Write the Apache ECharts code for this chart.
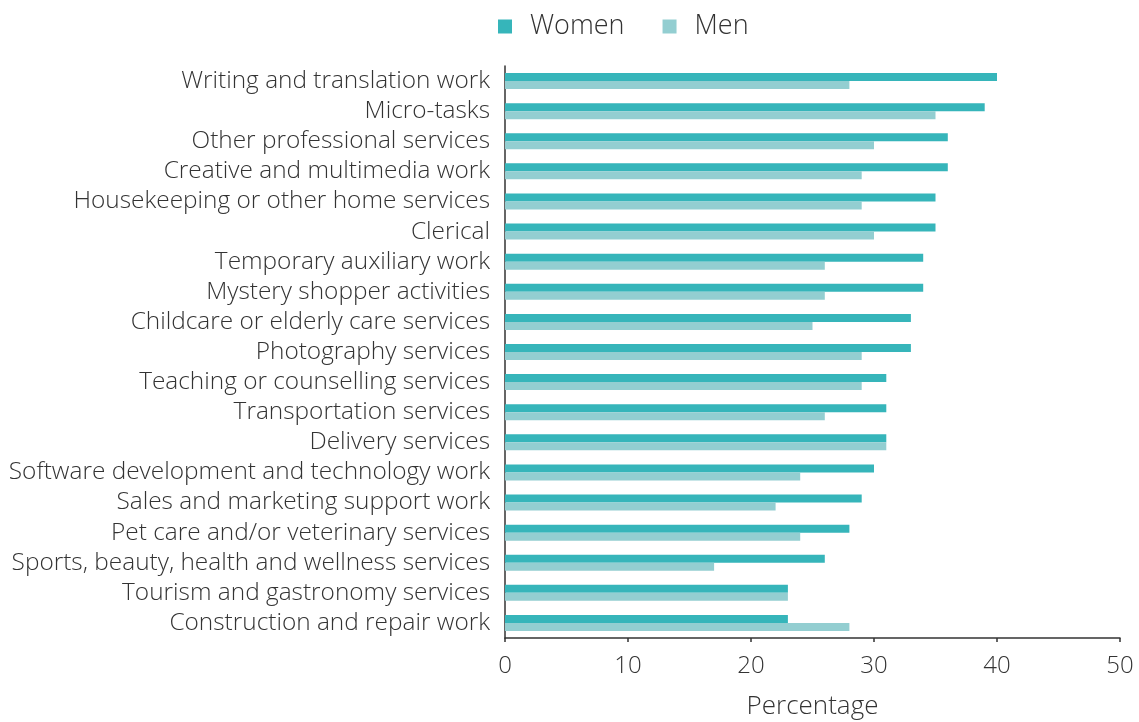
<!DOCTYPE html>
<html>
<head>
<meta charset="utf-8">
<script src="https://cdn.jsdelivr.net/npm/echarts@6/dist/echarts.min.js"></script>
<style>
html,body{margin:0;padding:0;background:#fff;}
#c{width:1139px;height:722px;}
</style>
</head>
<body>
<div id="c"></div>
<script>
const categories = [
  "Writing and translation work",
  "Micro-tasks",
  "Other professional services",
  "Creative and multimedia work",
  "Housekeeping or other home services",
  "Clerical",
  "Temporary auxiliary work",
  "Mystery shopper activities",
  "Childcare or elderly care services",
  "Photography services",
  "Teaching or counselling services",
  "Transportation services",
  "Delivery services",
  "Software development and technology work",
  "Sales and marketing support work",
  "Pet care and/or veterinary services",
  "Sports, beauty, health and wellness services",
  "Tourism and gastronomy services",
  "Construction and repair work"
];
const women = [40, 39, 36, 36, 35, 35, 34, 34, 33, 33, 31, 31, 31, 30, 29, 28, 26, 23, 23];
const men   = [28, 35, 30, 29, 29, 30, 26, 26, 25, 29, 29, 26, 31, 24, 22, 24, 17, 23, 28];
const xTicks = [0, 10, 20, 30, 40, 50];

const font = "'Open Sans', sans-serif";
const chart = echarts.init(document.getElementById('c'), null, {renderer: 'canvas'});
chart.setOption({
  animation: false,
  backgroundColor: '#fff',
  textStyle: {fontFamily: font},
  legend: {
    top: 8,
    left: 493,
    itemWidth: 14,
    itemHeight: 14,
    itemGap: 38,
    icon: 'rect',
    textStyle: {fontFamily: font, fontSize: 27, fontWeight: 300, color: '#333', padding: [0, 0, 0, 13]},
    data: ['Women', 'Men']
  },
  grid: {left: 505, right: 19, top: 66, bottom: 84, containLabel: false, outerBoundsMode: 'none'},
  xAxis: {
    type: 'value',
    min: xTicks[0],
    max: xTicks[xTicks.length - 1],
    interval: 10,
    name: 'Percentage',
    nameLocation: 'middle',
    nameGap: 56,
    nameTextStyle: {fontFamily: font, fontSize: 26, fontWeight: 300, color: '#333'},
    axisLine: {show: true, lineStyle: {color: '#333', width: 1.5}},
    axisTick: {show: true, length: 4, lineStyle: {color: '#333', width: 1.5}},
    axisLabel: {fontFamily: font, fontSize: 24, fontWeight: 300, color: '#333', margin: 16},
    splitLine: {show: false}
  },
  yAxis: {
    type: 'category',
    data: categories,
    inverse: true,
    axisLine: {show: true, lineStyle: {color: '#333', width: 1.5}},
    axisTick: {show: false},
    axisLabel: {interval: 0, fontFamily: font, fontSize: 24.4, fontWeight: 300, color: '#333', margin: 15}
  },
  series: [
    {name: 'Women', type: 'bar', data: women, barWidth: 8, barGap: '0%',
     itemStyle: {color: '#36b5ba'}},
    {name: 'Men', type: 'bar', data: men, barWidth: 8, barGap: '0%',
     itemStyle: {color: '#93ced1'}}
  ]
});
</script>
</body>
</html>
